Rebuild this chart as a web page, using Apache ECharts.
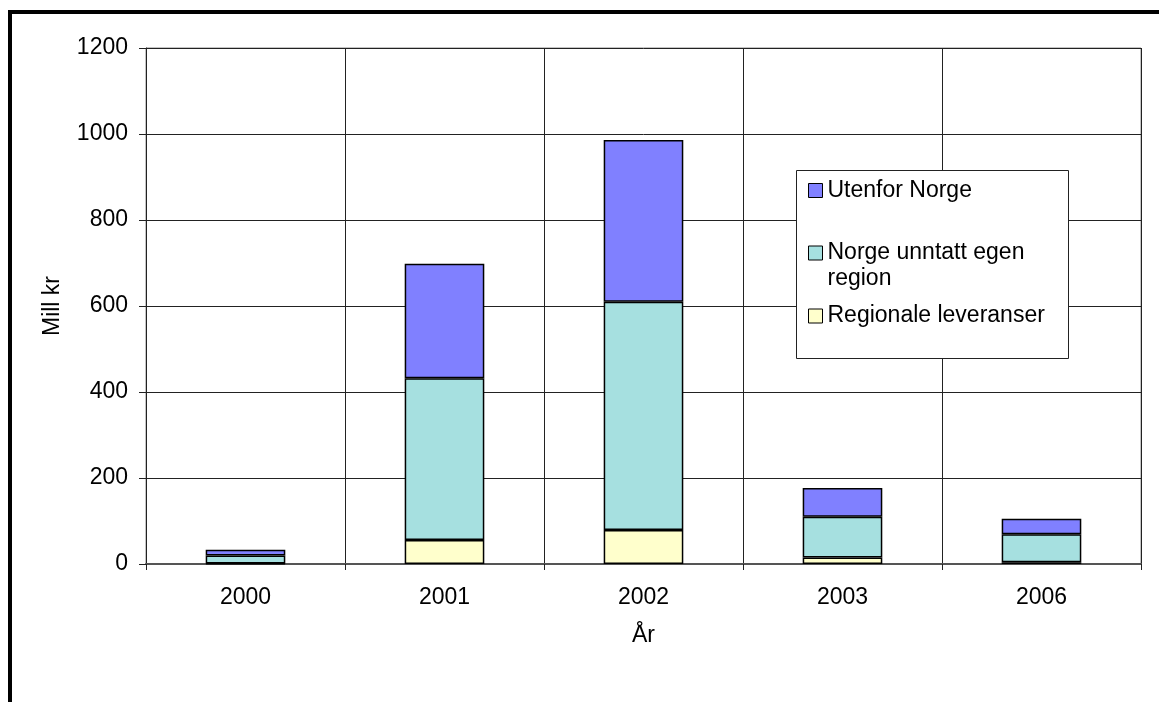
<!DOCTYPE html>
<html>
<head>
<meta charset="utf-8">
<script src="https://cdn.jsdelivr.net/npm/echarts@6/dist/echarts.min.js"></script>
<style>
  html, body { margin: 0; padding: 0; background: #fff; }
  #chart { width: 1159px; height: 702px; }
</style>
</head>
<body>
<div id="chart"></div>
<script>
// Leveranser per år (mill kr), stablet fra bunnen
const years = ['2000', '2001', '2002', '2003', '2006'];
const regionale = [1, 56, 79, 15, 4];
const norgeUnntatt = [19, 376, 531, 95, 65];
const utenforNorge = [13, 266, 376, 67, 36];
const yTicks = { min: 0, max: 1200, interval: 200 };

const FONT = '"Liberation Sans", Arial, sans-serif';
const FS = 23;

const COLORS = {
  regionale: '#FFFFCC',
  norge: '#A6E0E0',
  utenfor: '#8080FF'
};

function barSeries(name, data, color) {
  return {
    name: name,
    type: 'bar',
    stack: 'total',
    barWidth: '40%',
    data: data,
    itemStyle: { color: color, borderColor: '#000', borderWidth: 1.5 },
    emphasis: { disabled: true }
  };
}

// One legend per entry so each row can sit at its own height inside the box.
// The two-line entry gets an empty first line so its first text line stays level with the marker.
function legendAt(name, top, lineHeight) {
  return {
    data: [name],
    left: 808,
    top: top,
    padding: 0,
    z: 10,
    orient: 'vertical',
    icon: 'rect',
    itemWidth: 14,
    itemHeight: 14,
    selectedMode: false,
    itemStyle: { borderColor: '#000', borderWidth: 1 },
    textStyle: { fontFamily: FONT, fontSize: FS, color: '#000', lineHeight: lineHeight },
    formatter: function (n) {
      return n === 'Norge unntatt egen region' ? '\nNorge unntatt egen\nregion' : n;
    }
  };
}

const chart = echarts.init(document.getElementById('chart'), null, { renderer: 'canvas' });

chart.setOption({
  animation: false,
  backgroundColor: '#fff',
  textStyle: { fontFamily: FONT },
  grid: {
    left: 146, right: 18, top: 48, bottom: 138,
    show: true, borderColor: '#888', borderWidth: 1, backgroundColor: 'transparent'
  },
  graphic: [
    {
      type: 'rect',
      shape: { x: 10, y: 12, width: 1300, height: 900 },
      style: { fill: 'none', stroke: '#000', lineWidth: 4 },
      silent: true,
      z: 100
    },
    {
      type: 'rect',
      shape: { x: 796.5, y: 170.5, width: 272, height: 188 },
      style: { fill: '#fff', stroke: '#222', lineWidth: 1 },
      silent: true,
      z: 3
    }
  ],
  legend: [
    legendAt('Utenfor Norge', 177, 27),
    legendAt('Norge unntatt egen region', 214, 26),
    legendAt('Regionale leveranser', 302.5, 27)
  ],
  xAxis: {
    type: 'category',
    data: years,
    boundaryGap: true,
    name: 'År',
    nameLocation: 'middle',
    nameGap: 60,
    nameTextStyle: { fontFamily: FONT, fontSize: FS, color: '#000' },
    axisLine: { show: true, lineStyle: { color: '#555', width: 2 } },
    axisTick: { show: true, length: 6, alignWithLabel: false, lineStyle: { color: '#222' } },
    axisLabel: { fontFamily: FONT, fontSize: FS, color: '#000', margin: 22 },
    splitLine: { show: true, lineStyle: { color: '#222', width: 1 } }
  },
  yAxis: {
    type: 'value',
    min: yTicks.min,
    max: yTicks.max,
    interval: yTicks.interval,
    name: 'Mill kr',
    nameLocation: 'middle',
    nameGap: 82,
    nameRotate: 90,
    nameTextStyle: { fontFamily: FONT, fontSize: FS, color: '#000' },
    axisLine: { show: true, lineStyle: { color: '#222', width: 1 } },
    axisTick: { show: true, length: 7, lineStyle: { color: '#222' } },
    axisLabel: {
      fontFamily: FONT, fontSize: FS, color: '#000', margin: 18,
      formatter: function (v) { return String(v); }
    },
    splitLine: { show: true, lineStyle: { color: '#222', width: 1 } }
  },
  series: [
    barSeries('Regionale leveranser', regionale, COLORS.regionale),
    barSeries('Norge unntatt egen region', norgeUnntatt, COLORS.norge),
    barSeries('Utenfor Norge', utenforNorge, COLORS.utenfor)
  ]
});
</script>
</body>
</html>
